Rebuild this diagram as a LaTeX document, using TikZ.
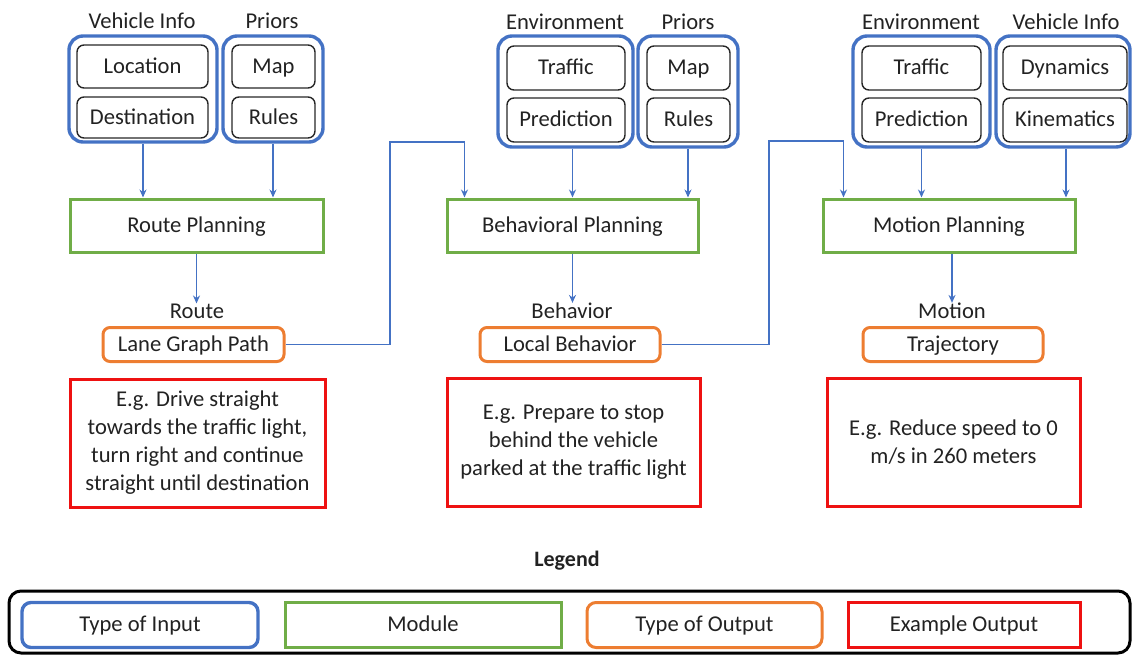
\documentclass[tikz,border=0pt]{standalone}
\usepackage{fontspec}
\setmainfont{Carlito}
\usetikzlibrary{arrows.meta}
\definecolor{inblue}{HTML}{4472C4}
\definecolor{modgreen}{HTML}{70AD47}
\definecolor{outorange}{HTML}{ED7D31}
\definecolor{exred}{HTML}{EE1111}
\definecolor{txt}{HTML}{222222}
\begin{document}
\begin{tikzpicture}[x=1pt,y=-1pt,
  every node/.style={inner sep=0pt, text=txt, font=\fontsize{22.6}{28}\selectfont},
  oneline/.style={text height=16pt, text depth=3pt},
  grp/.style={draw=inblue, line width=3.4pt, rounded corners=14pt},
  item/.style={oneline, draw=black!85, line width=1.4pt, rounded corners=7pt},
  module/.style={oneline, draw=modgreen, line width=3pt},
  outtype/.style={oneline, draw=outorange, line width=3pt, rounded corners=7pt},
  example/.style={draw=exred, line width=3pt, align=center},
  legendbox/.style={draw=black, line width=3pt, rounded corners=12pt},
  conn/.style={draw=inblue, line width=1.4pt, -{Stealth[length=8pt,width=7pt]}}]
\useasboundingbox (0,0) rectangle (1133,656);

% ---- Route planning column ----
\node (lvi) at (142,21) {Vehicle Info};
\node (lpr) at (272,21) {Priors};
\node[grp, minimum width=148pt, minimum height=106pt] (vi1) at (143,89) {};
\node[item, minimum width=131pt, minimum height=43pt] (loc) at (142.5,66.5) {Location};
\node[item, minimum width=131pt, minimum height=41pt] (dest) at (142.5,117.5) {Destination};
\node[grp, minimum width=100pt, minimum height=106pt] (pr1) at (273,89) {};
\node[item, minimum width=83pt, minimum height=43pt] (map1) at (273.5,66.5) {Map};
\node[item, minimum width=83pt, minimum height=41pt] (rul1) at (273.5,117.5) {Rules};
\node[module, minimum width=253pt, minimum height=53pt] (rp) at (196.5,225.5) {Route Planning};
\node (lroute) at (197,311) {Route};
\node[outtype, minimum width=181pt, minimum height=34pt] (lgp) at (193.5,344.5) {Lane Graph Path};
\node[example, minimum width=255pt, minimum height=128pt] (ex1) at (197.5,443)
  {E.g. Drive straight\\towards the traffic light,\\turn right and continue\\straight until destination};

% ---- Behavioral planning column ----
\node (lenv) at (565,22) {Environment};
\node (lpr2) at (688,22) {Priors};
\node[grp, minimum width=135pt, minimum height=111pt] (env) at (565.5,91.5) {};
\node[item, minimum width=118pt, minimum height=44pt] (traf) at (566,68) {Traffic};
\node[item, minimum width=118pt, minimum height=44pt] (pred) at (566,120) {Prediction};
\node[grp, minimum width=100pt, minimum height=111pt] (pr2) at (688,91.5) {};
\node[item, minimum width=83pt, minimum height=44pt] (map2) at (688.5,68) {Map};
\node[item, minimum width=83pt, minimum height=44pt] (rul2) at (688.5,120) {Rules};
\node[module, minimum width=251pt, minimum height=53pt] (bp) at (572.5,225.5) {Behavioral Planning};
\node (lbeh) at (572,311) {Behavior};
\node[outtype, minimum width=180pt, minimum height=34pt] (lb) at (570,344.5) {Local Behavior};
\node[example, minimum width=253pt, minimum height=128pt] (ex2) at (573.5,442)
  {E.g. Prepare to stop\\behind the vehicle\\parked at the traffic light};

% ---- Motion planning column ----
\node (lenv3) at (921,22) {Environment};
\node (lvi3) at (1066,22) {Vehicle Info};
\node[grp, minimum width=137pt, minimum height=111pt] (env3) at (921.5,91.5) {};
\node[item, minimum width=119pt, minimum height=44pt] (traf3) at (921.5,68) {Traffic};
\node[item, minimum width=119pt, minimum height=44pt] (pred3) at (921.5,120) {Prediction};
\node[grp, minimum width=134pt, minimum height=111pt] (vi3) at (1063,91.5) {};
\node[item, minimum width=124pt, minimum height=44pt] (dyn) at (1065,68) {Dynamics};
\node[item, minimum width=124pt, minimum height=44pt] (kin) at (1065,120) {Kinematics};
\node[module, minimum width=252pt, minimum height=53pt] (mp) at (949,225.5) {Motion Planning};
\node (lmot) at (952,311) {Motion};
\node[outtype, minimum width=180pt, minimum height=34pt] (traj) at (953,344.5) {Trajectory};
\node[example, minimum width=253pt, minimum height=128pt] (ex3) at (953.5,442)
  {E.g. Reduce speed to 0\\m/s in 260 meters};

% ---- Connectors ----
\draw[conn] (vi1.south) -- (vi1.south |- rp.north);
\draw[conn] (pr1.south) -- (pr1.south |- rp.north);
\draw[conn] (rp.south) -- (rp.south |- lroute.north);
\draw[conn] (env.south -| bp.north) -- (bp.north);
\draw[conn] (pr2.south) -- (pr2.south |- bp.north);
\draw[conn] (bp.south) -- (bp.south |- lbeh.north);
\draw[conn] (env3.south) -- (env3.south |- mp.north);
\draw[conn] ([xshift=3pt]vi3.south) -- ([xshift=3pt]vi3.south |- mp.north);
\draw[conn] ([xshift=3pt]mp.south) -- ([xshift=3pt]mp.south |- lmot.north);

\coordinate (fb1) at (390,142);
\coordinate (fb2) at (769,141);
\draw[conn] (lgp.east) -| (fb1) -| ([xshift=19pt]bp.north west);
\draw[conn] (lb.east) -| (fb2) -| ([xshift=22pt]mp.north west);

% ---- Legend ----
\node[font=\fontsize{22}{26}\selectfont\bfseries] (leg) at (567,561) {Legend};
\node[legendbox, minimum width=1121pt, minimum height=62pt] (legbox) at (569.5,622) {};
\node[grp, oneline, rounded corners=9pt, minimum width=236pt, minimum height=45pt] (kin1) at (140,625) {Type of Input};
\node[module, minimum width=276pt, minimum height=45pt] (kmod) at (423,625) {Module};
\node[outtype, rounded corners=9pt, minimum width=235pt, minimum height=45pt] (kout) at (704.5,625) {Type of Output};
\node[example, oneline, minimum width=232pt, minimum height=45pt] (kex) at (964,625) {Example Output};
\end{tikzpicture}
\end{document}
